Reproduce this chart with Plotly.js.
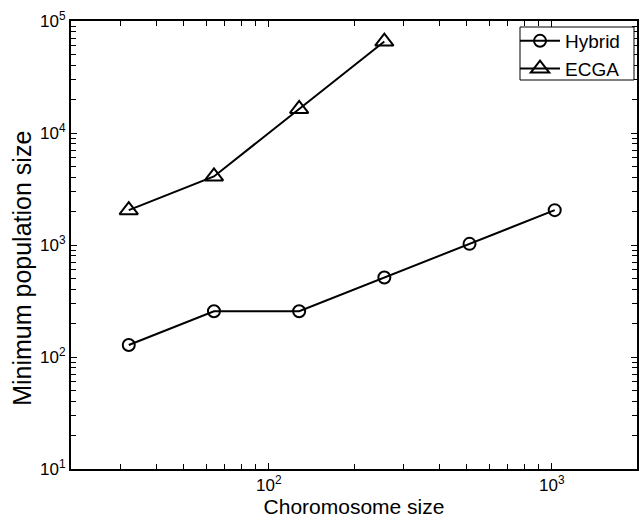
<!DOCTYPE html>
<html><head><meta charset="utf-8">
<script src="https://cdn.plot.ly/plotly-3.0.1.min.js"></script>
<style>html,body{margin:0;padding:0;background:#fff;}#chart{width:644px;height:519px;}</style>
</head><body><div id="chart"></div>
<script>
const hybridX = [32, 64, 128, 256, 512, 1024];
const hybridY = [128, 256, 256, 512, 1024, 2048];
const ecgaX = [32, 64, 128, 256];
const ecgaY = [2048, 4096, 16384, 65536];
const xTickVals = [100, 1000];
const xTickText = ['10<sup>2</sup>', '10<sup>3</sup>'];
const xMinorVals = [20,30,40,50,60,70,80,90,200,300,400,500,600,700,800,900,2000];
const yTickVals = [10, 100, 1000, 10000, 100000];
const yTickText = ['10<sup>1</sup>','10<sup>2</sup>','10<sup>3</sup>','10<sup>4</sup>','10<sup>5</sup>'];
const yMinorMult = [2, 3, 4, 5, 6, 7, 8, 9];
const yMinorVals = [];
yTickVals.slice(0, -1).forEach(d => yMinorMult.forEach(k => yMinorVals.push(d * k)));
const xTitle = 'Choromosome size';
const yTitle = 'Minimum population size';

const font = {family: 'Liberation Sans, Arial, Helvetica, sans-serif', color: '#000'};
const traces = [
  {x: hybridX, y: hybridY, name: 'Hybrid', mode: 'lines+markers', type: 'scatter',
   line: {color: '#000', width: 2},
   marker: {symbol: 'circle-open', size: 12, color: '#000', line: {width: 2, color: '#000'}}},
  {x: ecgaX, y: ecgaY, name: 'ECGA', mode: 'lines+markers', type: 'scatter',
   line: {color: '#000', width: 2},
   marker: {symbol: 'triangle-up-open', size: 16, color: '#000', line: {width: 2, color: '#000'}}}
];
const minorStyle = {ticks: 'inside', ticklen: 5, tickwidth: 1, tickcolor: '#000', showgrid: false, tickmode: 'array'};
const layout = {
  width: 644, height: 519,
  margin: {l: 71, r: 7, t: 21, b: 50, pad: 0},
  paper_bgcolor: '#fff', plot_bgcolor: '#fff',
  font: Object.assign({size: 17}, font),
  showlegend: true,
  legend: {x: 0.7845, y: 0.9978, xanchor: 'left', yanchor: 'top', bgcolor: 'rgba(0,0,0,0)',
           borderwidth: 0, font: Object.assign({size: 19}, font),
           tracegroupgap: 0, itemwidth: 40},
  shapes: [{type: 'rect', xref: 'paper', yref: 'paper', x0: 0.7933, x1: 0.9947, y0: 0.8683, y1: 0.9866,
            line: {color: '#000', width: 1}, fillcolor: '#fff', layer: 'above'}],
  annotations: [{text: yTitle, xref: 'paper', yref: 'paper', x: -0.0866, y: 0.449,
                 xanchor: 'center', yanchor: 'middle', textangle: -90, showarrow: false,
                 font: Object.assign({size: 25}, font)}],
  xaxis: {type: 'log', range: [Math.log10(20), Math.log10(2000)], showgrid: false, zeroline: false,
          showline: true, linecolor: '#000', linewidth: 2, mirror: 'allticks',
          ticks: 'inside', ticklen: 6, tickwidth: 1, tickcolor: '#000', tickangle: 0,
          tickmode: 'array', tickvals: xTickVals, ticktext: xTickText,
          minor: Object.assign({tickvals: xMinorVals}, minorStyle),
          tickfont: Object.assign({size: 17}, font),
          title: {text: xTitle, font: Object.assign({size: 21}, font), standoff: 0}},
  yaxis: {type: 'log', range: [1, 5], showgrid: false, zeroline: false,
          showline: true, linecolor: '#000', linewidth: 2, mirror: 'allticks',
          ticks: 'inside', ticklen: 6, tickwidth: 1, tickcolor: '#000',
          tickmode: 'array', tickvals: yTickVals, ticktext: yTickText,
          minor: Object.assign({tickvals: yMinorVals}, minorStyle),
          tickfont: Object.assign({size: 17}, font)}
};
Plotly.newPlot('chart', traces, layout, {displayModeBar: false, staticPlot: true});
</script></body></html>
